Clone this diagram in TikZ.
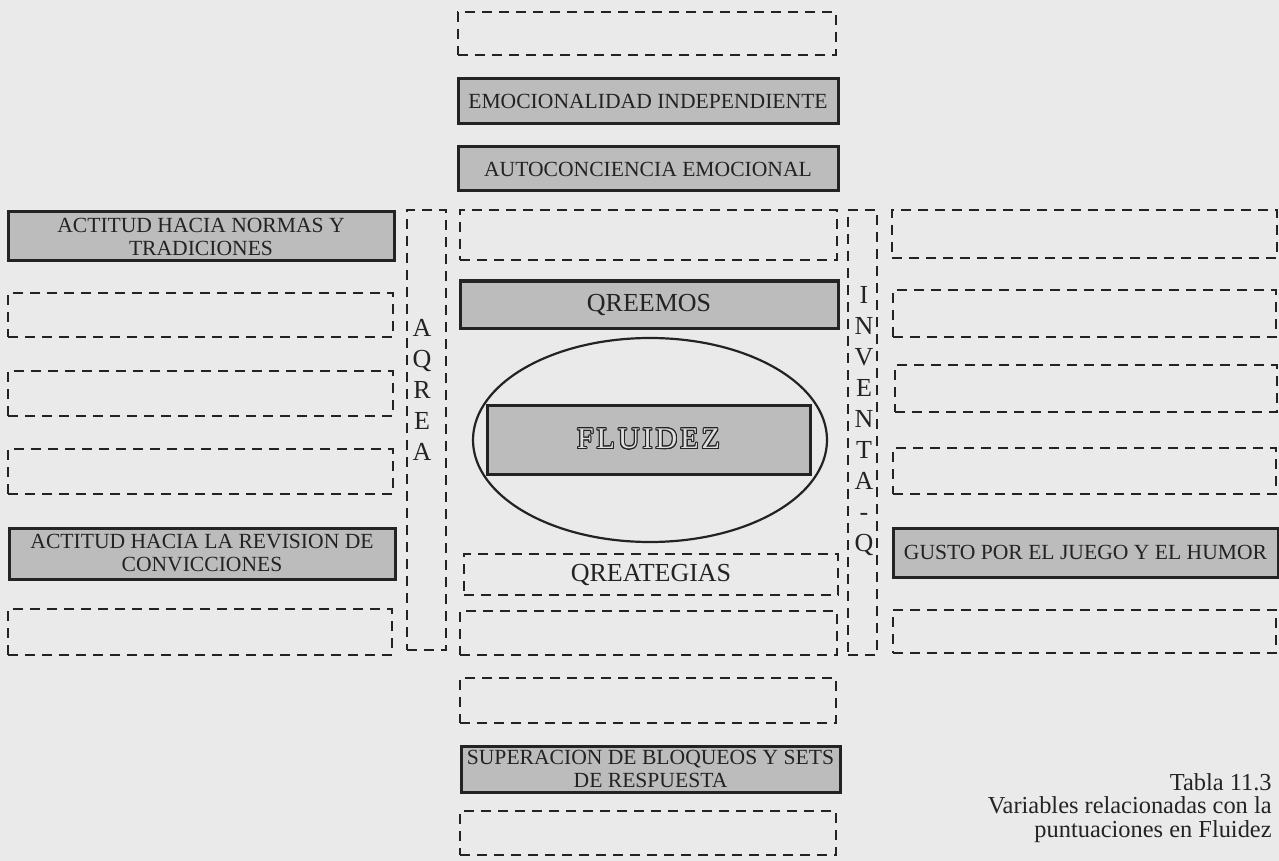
\documentclass[tikz,border=0pt]{standalone}
\usepackage{fontspec}
\setmainfont{Liberation Serif}
\newfontfamily\spacedserif[LetterSpace=10]{Liberation Serif}
\usepackage[copies]{contour}
\contourlength{0.5pt}
\usetikzlibrary{shapes.geometric}

\definecolor{paper}{RGB}{234,234,234}
\definecolor{boxfill}{RGB}{188,188,188}
\definecolor{ink}{RGB}{35,35,35}
\definecolor{hollow}{RGB}{222,222,222}

\tikzset{
  solidbox/.style={draw=ink, line width=1.5pt, fill=boxfill, inner sep=0pt,
    text=ink, align=center, font=\fontsize{10.8}{11.5}\selectfont},
  dashbox/.style={draw=ink, line width=1pt, dash pattern=on 5pt off 3.5pt,
    inner sep=0pt, text=ink},
  bigtext/.style={font=\fontsize{13}{15}\selectfont},
  letters/.style={text=ink, inner sep=0pt, align=center,
    font=\fontsize{13}{15.5}\selectfont},
  caption/.style={text=ink, inner sep=0pt, align=right,
    font=\fontsize{12.2}{11.8}\selectfont}
}

\begin{document}
\begin{tikzpicture}[x=0.5pt, y=-0.5pt]
  % paper
  \fill[paper] (0,0) rectangle (1279,861);
  \useasboundingbox (0,0) rectangle (1279,861);

  % central column
  \node[dashbox, minimum width=189pt, minimum height=21.5pt] (c1) at (647,33.5) {};
  \node[solidbox, minimum width=190pt, minimum height=22.5pt] (emo) at (648,101.5) {EMOCIONALIDAD INDEPENDIENTE};
  \node[solidbox, minimum width=190pt, minimum height=22pt] (auto) at (648,169) {AUTOCONCIENCIA EMOCIONAL};
  \node[dashbox, minimum width=188.5pt, minimum height=25pt] (c4) at (648.5,235) {};
  \node[solidbox, bigtext, minimum width=189pt, minimum height=23.5pt] (qreemos) at (649,304.5) {QREEMOS};
  \node[draw=ink, line width=1.1pt, ellipse, inner sep=0pt,
        minimum width=177pt, minimum height=102pt] (oval) at (650,440) {};
  \node[solidbox, text=hollow, minimum width=161.5pt, minimum height=34.5pt,
        font=\fontsize{15}{17}\spacedserif] (fluidez) at (648.5,439.5) {\contour{ink}{FLUIDEZ}};
  \node[dashbox, bigtext, minimum width=187pt, minimum height=20.5pt] (qreat) at (651,574.5) {QREATEGIAS};
  \node[dashbox, minimum width=188.5pt, minimum height=22pt] (c9) at (648.5,633) {};
  \node[dashbox, minimum width=188pt, minimum height=22.5pt] (c10) at (648,700.5) {};
  \node[solidbox, minimum width=189.5pt, minimum height=23pt] (super) at (650.5,769) {SUPERACION DE BLOQUEOS Y SETS\\DE RESPUESTA};
  \node[dashbox, minimum width=188pt, minimum height=22pt] (c12) at (648,833) {};

  % left column
  \node[solidbox, minimum width=193pt, minimum height=24.5pt] (l1) at (201,236.5) {ACTITUD HACIA NORMAS Y\\TRADICIONES};
  \node[dashbox, minimum width=192.5pt, minimum height=22pt] (l2) at (200.5,315) {};
  \node[dashbox, minimum width=192.5pt, minimum height=22.5pt] (l3) at (200.5,393.5) {};
  \node[dashbox, minimum width=192.5pt, minimum height=22.5pt] (l4) at (200.5,471.5) {};
  \node[solidbox, minimum width=193pt, minimum height=25.5pt] (l5) at (202,553.5) {ACTITUD HACIA LA REVISION DE\\CONVICCIONES};
  \node[dashbox, minimum width=192pt, minimum height=23pt] (l6) at (200,632) {};

  % AQREA band
  \node[dashbox, minimum width=19.5pt, minimum height=220pt] (aqrea) at (426.5,430) {};
  \node[letters] (aqreatxt) at (422,390) {A\\Q\\R\\E\\A};

  % INVENTA-Q band
  \node[dashbox, minimum width=14.5pt, minimum height=222.5pt] (inventa) at (862.5,432.5) {};
  \node[letters] (inventatxt) at (864,421.5) {I\\N\\V\\E\\N\\T\\A\\-\\Q};

  % right column
  \node[dashbox, minimum width=192.5pt, minimum height=24pt] (r1) at (1084.5,234) {};
  \node[dashbox, minimum width=191.5pt, minimum height=23.5pt] (r2) at (1084.5,313.5) {};
  \node[dashbox, minimum width=191pt, minimum height=23.5pt] (r3) at (1086,388.5) {};
  \node[dashbox, minimum width=191.5pt, minimum height=23pt] (r4) at (1084.5,471) {};
  \node[solidbox, minimum width=192.5pt, minimum height=24.5pt] (gusto) at (1085.5,552.5) {GUSTO POR EL JUEGO Y EL HUMOR};
  \node[dashbox, minimum width=191.5pt, minimum height=21.5pt] (r6) at (1084.5,631.5) {};

  % caption
  \node[caption, anchor=east] (cap) at (1272,808) {Tabla 11.3\\Variables relacionadas con la\\puntuaciones en Fluidez};
\end{tikzpicture}
\end{document}
